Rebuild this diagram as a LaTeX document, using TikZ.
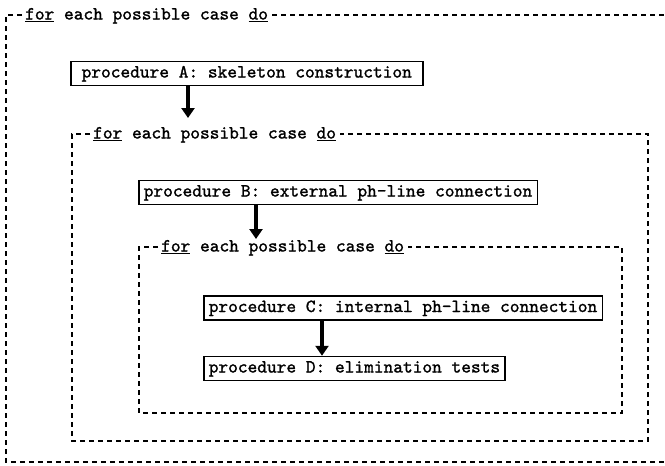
\documentclass[tikz,border=0pt]{standalone}
\usepackage{fontspec}
\newfontfamily\tw{lmmono10-regular}[Extension=.otf, FakeBold=1.3]
\usetikzlibrary{arrows.meta,calc}
\tikzset{
  procbox/.style={draw, line width=1.5pt, anchor=west, inner xsep=5pt, inner ysep=4pt,
    font=\tw\fontsize{18.5}{22}\selectfont, text height=12pt, text depth=4pt},
  hdr/.style={inner sep=0pt, anchor=base west, font=\tw\fontsize{18.5}{22}\selectfont},
  loopline/.style={line width=1.4pt, dash pattern=on 5pt off 4pt},
  flowarrow/.style={line width=4.5pt, -{Triangle[width=13pt,length=10pt]}}
}
\begin{document}
\begin{tikzpicture}[x=1pt,y=-1pt]
\useasboundingbox (0,0) rectangle (665,466);
% loop corners
\coordinate (o1) at (6,15);   \coordinate (o2) at (665,15);
\coordinate (o3) at (665,462); \coordinate (o4) at (6,462);
\coordinate (m1) at (72,134);  \coordinate (m2) at (648,134);
\coordinate (m3) at (648,441); \coordinate (m4) at (72,441);
\coordinate (i1) at (139,247); \coordinate (i2) at (622,247);
\coordinate (i3) at (622,413); \coordinate (i4) at (139,413);
% headers
\node[hdr] (h1) at (25,19.5) {\underline{for} each possible case \underline{do}};
\node[hdr] (h2) at (93,138.5) {\underline{for} each possible case \underline{do}};
\node[hdr] (h3) at (161,251.5) {\underline{for} each possible case \underline{do}};
% loop frames
\draw[loopline] ($(h1.west |- o1)+(-3,0)$) -- (o1) -- (o4) -- (o3);
\draw[loopline] ($(h1.east |- o1)+(4,0)$) -- (o2);
\draw[loopline] ($(h2.west |- m1)+(-3,0)$) -- (m1) -- (m4) -- (m3) -- (m2) -- ($(h2.east |- m1)+(4,0)$);
\draw[loopline] ($(h3.west |- i1)+(-3,0)$) -- (i1) -- (i4) -- (i3) -- (i2) -- ($(h3.east |- i1)+(4,0)$);
% procedure boxes
\node[procbox, minimum width=352pt] (A) at (70,73.5) {procedure A: skeleton construction};
\node[procbox] (B) at (138,192.5) {procedure B: external ph-line connection};
\node[procbox] (C) at (203,308) {procedure C: internal ph-line connection};
\node[procbox] (D) at (203,368.5) {procedure D: elimination tests};
% arrows
\coordinate (ea) at (188,118);
\coordinate (eb) at (256,239);
\coordinate (xc) at (322,0);
\draw[flowarrow] (A.south -| ea) -- (ea);
\draw[flowarrow] (B.south -| eb) -- (eb);
\draw[flowarrow] (C.south -| xc) -- (D.north -| xc);
\end{tikzpicture}
\end{document}
